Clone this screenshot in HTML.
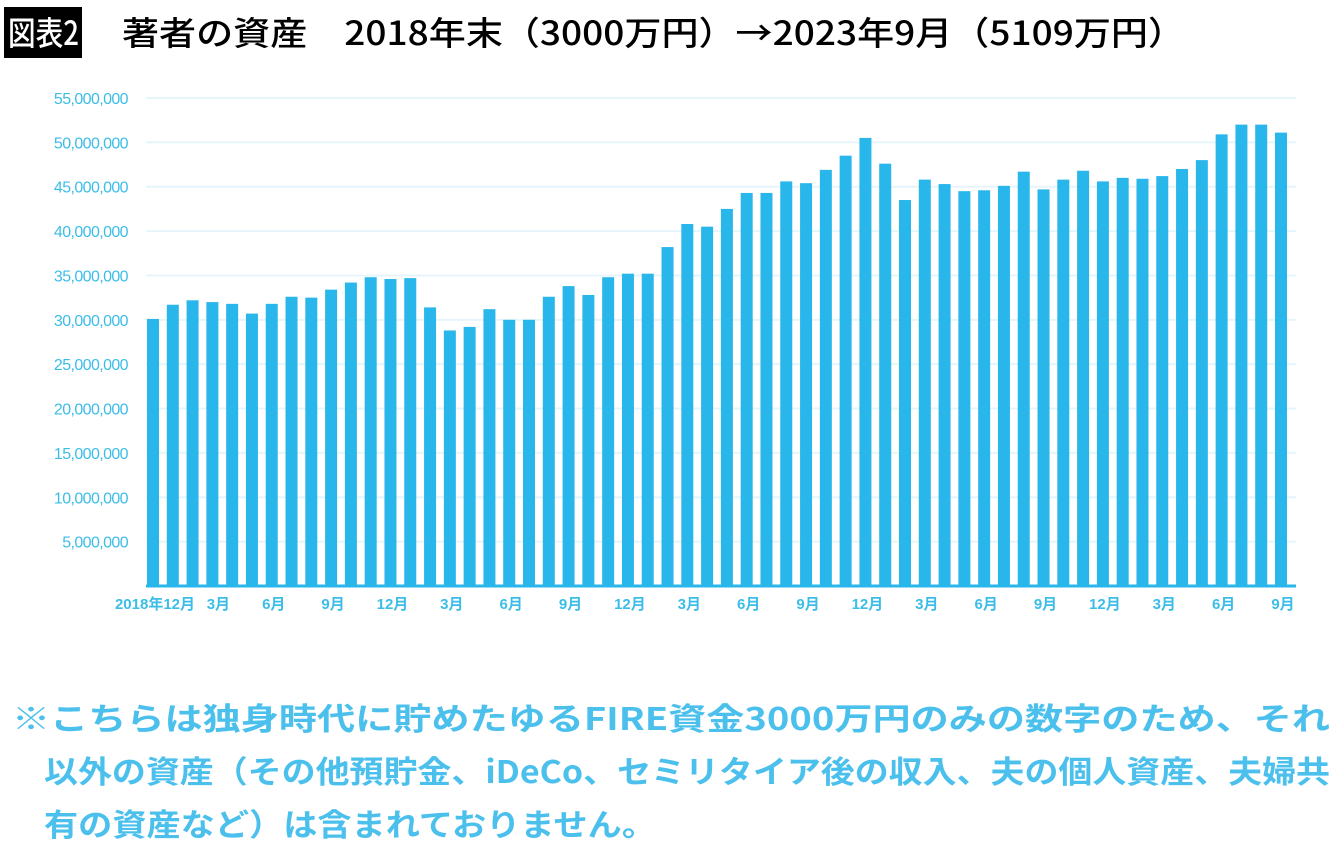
<!DOCTYPE html>
<html><head><meta charset="utf-8"><style>
html,body{margin:0;padding:0;background:#fff;width:1340px;height:852px;overflow:hidden}
svg{display:block}
</style></head><body>
<svg id="chart" width="1340" height="852" xmlns="http://www.w3.org/2000/svg">
<rect x="4" y="7" width="78" height="51" fill="#000"/>
<text x="8" y="45" font-family="'Noto Sans CJK JP',sans-serif" font-size="33" font-weight="500" fill="#fff" textLength="71" lengthAdjust="spacingAndGlyphs">図表2</text>
<text x="122" y="45" font-family="'Noto Sans CJK JP',sans-serif" font-size="33" font-weight="500" fill="#000" textLength="1063" lengthAdjust="spacingAndGlyphs">著者の資産　2018年末（3000万円）→2023年9月（5109万円）</text>
<g id="grid"></g><g id="bars"></g><g id="yt"></g><g id="xt"></g>
<line x1="146" y1="586" x2="1296" y2="586" stroke="#29b6ea" stroke-width="3"/>
<g font-family="'Noto Sans CJK JP',sans-serif" font-size="31" font-weight="bold" fill="#4cc0ec">
<text x="12" y="730" textLength="1318" lengthAdjust="spacingAndGlyphs">※こちらは独身時代に貯めたゆるFIRE資金3000万円のみの数字のため、それ</text>
<text x="44" y="783" textLength="1286" lengthAdjust="spacingAndGlyphs">以外の資産（その他預貯金、iDeCo、セミリタイア後の収入、夫の個人資産、夫婦共</text>
<text x="44" y="836" textLength="612" lengthAdjust="spacingAndGlyphs">有の資産など）は含まれておりません。</text>
</g>
</svg>
<script>
const values=[30.1,31.7,32.2,32.0,31.8,30.7,31.8,32.6,32.5,33.4,34.2,34.8,34.6,34.7,31.4,28.8,29.2,31.2,30.0,30.0,32.6,33.8,32.8,34.8,35.2,35.2,38.2,40.8,40.5,42.5,44.3,44.3,45.6,45.4,46.9,48.5,50.5,47.6,43.5,45.8,45.3,44.5,44.6,45.1,46.7,44.7,45.8,46.8,45.6,46.0,45.9,46.2,47.0,48.0,50.9,52.0,52.0,51.1];
const monthLabels=["2018年12月","","","3月","","","6月","","","9月","","","12月","","","3月","","","6月","","","9月","","","12月","","","3月","","","6月","","","9月","","","12月","","","3月","","","6月","","","9月","","","12月","","","3月","","","6月","","","9月"];
const yTicks=[5,10,15,20,25,30,35,40,45,50,55];
const NS="http://www.w3.org/2000/svg";
const y0=586,yTop=98,yMax=55;
const y=v=>y0-(v/yMax)*(y0-yTop);
const x0=153,step=(1281-153)/57,bw=12;
const x=i=>x0+i*step;
function el(t,a,p){const e=document.createElementNS(NS,t);for(const k in a)e.setAttribute(k,a[k]);document.getElementById(p).appendChild(e);return e;}
yTicks.forEach(t=>{
 const g=el('line',{x1:146,x2:1296,y1:y(t),y2:y(t),stroke:'#e6f4fb','stroke-width':2},'grid');
 
 
 const l=el('text',{x:128,y:y(t)+6,'text-anchor':'end','font-family':"'Liberation Sans',sans-serif",'font-size':16,fill:'#3cbde8','letter-spacing':'-0.6'},'yt');
 l.textContent=(t*1e6).toLocaleString('en-US');
 
 
});
values.forEach((v,i)=>{
 const r=el('rect',{x:x(i)-bw/2,y:y(v),width:bw,height:y0-y(v),fill:'#29b6ea'},'bars');
 
 
 if(monthLabels[i]){
  const t=el('text',{x:x(i)+(i===3?6:2),y:609,'text-anchor':'middle','font-family':"'Liberation Sans','Noto Sans CJK JP',sans-serif",'font-size':15,'font-weight':'bold',fill:'#3cbde8'},'xt');
  t.textContent=monthLabels[i];
  
  
 }
});
</script>
</body></html>
